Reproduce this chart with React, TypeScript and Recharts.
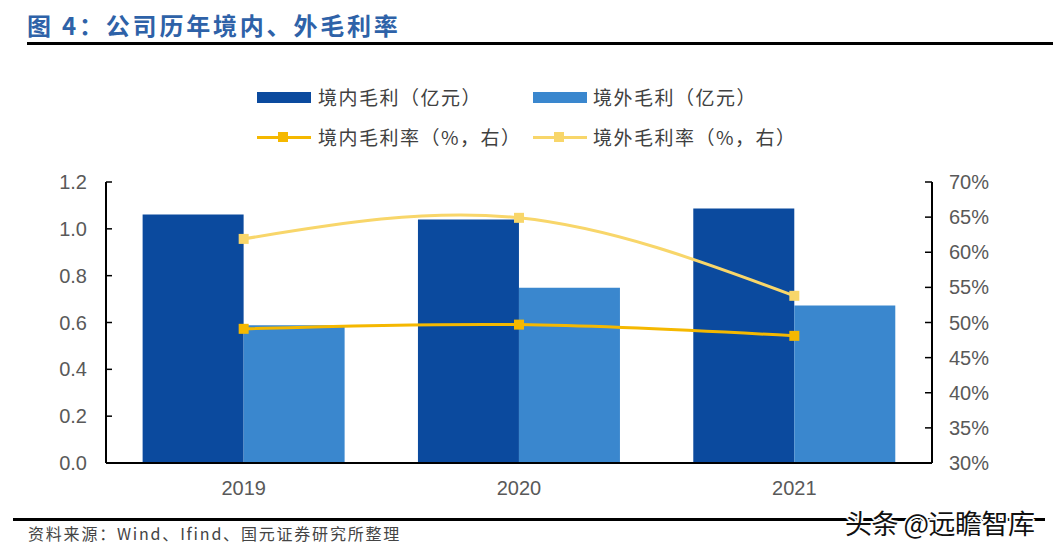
import React from "react";
import {
  ComposedChart,
  Bar,
  Line,
  XAxis,
  YAxis,
} from "recharts";

const years = ["2019", "2020", "2021"];
const domesticProfit = [1.061, 1.04, 1.087];
const overseasProfit = [0.588, 0.748, 0.673];
const domesticMargin = [49.1, 49.7, 48.1];
const overseasMargin = [61.9, 64.9, 53.8];
const leftTicks = [0, 0.2, 0.4, 0.6, 0.8, 1.0, 1.2];
const rightTicks = [30, 35, 40, 45, 50, 55, 60, 65, 70];

const data = years.map((year, i) => ({
  year,
  domesticProfit: domesticProfit[i],
  overseasProfit: overseasProfit[i],
  domesticMargin: domesticMargin[i],
  overseasMargin: overseasMargin[i],
}));

const DARK_BLUE = "#0B4A9E";
const LIGHT_BLUE = "#3A87CE";
const GOLD = "#F5B800";
const PALE_GOLD = "#F8D66A";
const TICK_GREY = "#595959";
const FONT = "'Liberation Sans', Arial, sans-serif";
const CJK = "'Noto Sans CJK SC', sans-serif";

const LeftTick = (props: any) => {
  const { x, y, payload } = props;
  const ax = x + 19;
  return (
    <g>
      <line x1={ax} x2={ax + 6} y1={y} y2={y} stroke="#000" strokeWidth={1.5} />
      <text x={x} y={y} dy={7} textAnchor="end" fill={TICK_GREY} fontSize={20} fontFamily={FONT}>
        {Number(payload.value).toFixed(1)}
      </text>
    </g>
  );
};

const RightTick = (props: any) => {
  const { x, y, payload } = props;
  const ax = x - 17;
  return (
    <g>
      <line x1={ax - 7} x2={ax} y1={y} y2={y} stroke="#000" strokeWidth={1.5} />
      <text x={x} y={y} dy={7} textAnchor="start" fill={TICK_GREY} fontSize={20} fontFamily={FONT}>
        {payload.value}%
      </text>
    </g>
  );
};

const squareDot = (color: string) => (props: any) => {
  const { cx, cy, index } = props;
  return <rect key={index} x={cx - 5} y={cy - 5} width={10} height={10} fill={color} />;
};

const legendText: React.CSSProperties = {
  position: "absolute",
  fontFamily: CJK,
  fontSize: 19,
  letterSpacing: 1.5,
  color: "#404040",
  lineHeight: "20px",
  whiteSpace: "nowrap",
};

function LegendLine({ left, top, color }: { left: number; top: number; color: string }) {
  return (
    <div style={{ position: "absolute", left, top, width: 54, height: 10 }}>
      <div style={{ position: "absolute", left: 0, top: 4, width: 54, height: 3, background: color }} />
      <div style={{ position: "absolute", left: 21, top: 0, width: 10, height: 10, background: color }} />
    </div>
  );
}

export default function App() {
  return (
    <div style={{ position: "absolute", left: 0, top: 0, width: 1053, height: 553, background: "#fff", overflow: "hidden" }}>
      <div
        style={{
          position: "absolute",
          left: 27,
          top: 10,
          fontFamily: CJK,
          fontWeight: 700,
          fontSize: 24,
          letterSpacing: 2.8,
          color: "#2E62A8",
          whiteSpace: "nowrap",
          lineHeight: "30px",
        }}
      >
        图 4：公司历年境内、外毛利率
      </div>
      <div style={{ position: "absolute", left: 27, top: 42, width: 1026, height: 3, background: "#000" }} />

      <div style={{ position: "absolute", left: 257, top: 92, width: 54, height: 11, background: DARK_BLUE }} />
      <div style={{ ...legendText, left: 318, top: 87 }}>境内毛利（亿元）</div>
      <div style={{ position: "absolute", left: 533, top: 92, width: 54, height: 11, background: LIGHT_BLUE }} />
      <div style={{ ...legendText, left: 593, top: 87 }}>境外毛利（亿元）</div>
      <LegendLine left={257} top={132} color={GOLD} />
      <div style={{ ...legendText, left: 318, top: 127 }}>境内毛利率（%，右）</div>
      <LegendLine left={533} top={132} color={PALE_GOLD} />
      <div style={{ ...legendText, left: 593, top: 127 }}>境外毛利率（%，右）</div>

      <div style={{ position: "absolute", left: 0, top: 0 }}>
        <ComposedChart
          width={1053}
          height={553}
          data={data}
          margin={{ top: 182, right: 0, bottom: 50, left: 0 }}
          barCategoryGap="13.3%"
          barGap={0}
        >
          <XAxis
            dataKey="year"
            tickLine={false}
            tickSize={0}
            tickMargin={18}
            height={40}
            axisLine={{ stroke: "#000", strokeWidth: 2 }}
            tick={{ fill: TICK_GREY, fontSize: 20, fontFamily: FONT }}
          />
          <YAxis
            yAxisId="left"
            orientation="left"
            width={106}
            domain={[0, 1.2]}
            ticks={leftTicks}
            interval={0}
            tickLine={false}
            tickSize={6}
            tickMargin={13}
            axisLine={{ stroke: "#000", strokeWidth: 2 }}
            tick={<LeftTick />}
          />
          <YAxis
            yAxisId="right"
            orientation="right"
            width={121}
            domain={[30, 70]}
            ticks={rightTicks}
            interval={0}
            tickLine={false}
            tickSize={6}
            tickMargin={11}
            axisLine={{ stroke: "#000", strokeWidth: 2 }}
            tick={<RightTick />}
          />
          <Bar yAxisId="left" dataKey="domesticProfit" fill={DARK_BLUE} isAnimationActive={false} />
          <Bar yAxisId="left" dataKey="overseasProfit" fill={LIGHT_BLUE} isAnimationActive={false} />
          <Line
            yAxisId="right"
            type="natural"
            dataKey="domesticMargin"
            stroke={GOLD}
            strokeWidth={3}
            dot={squareDot(GOLD)}
            activeDot={false}
            isAnimationActive={false}
          />
          <Line
            yAxisId="right"
            type="natural"
            dataKey="overseasMargin"
            stroke={PALE_GOLD}
            strokeWidth={3}
            dot={squareDot(PALE_GOLD)}
            activeDot={false}
            isAnimationActive={false}
          />
        </ComposedChart>
      </div>

      <div style={{ position: "absolute", left: 13, top: 518, width: 1032, height: 3, background: "#000" }} />
      <div
        style={{
          position: "absolute",
          left: 28,
          top: 523,
          fontFamily: CJK,
          fontSize: 16,
          letterSpacing: 1.8,
          color: "#444",
          whiteSpace: "nowrap",
          lineHeight: "20px",
        }}
      >
        资料来源：Wind、Ifind、国元证券研究所整理
      </div>
      <div
        style={{
          position: "absolute",
          left: 845,
          top: 507,
          fontFamily: CJK,
          fontSize: 27,
          color: "#111",
          whiteSpace: "nowrap",
          lineHeight: "32px",
          letterSpacing: -0.5,
          textShadow: "2px 0 #fff, -2px 0 #fff, 0 2px #fff, 0 -2px #fff, 1px 1px #fff, -1px -1px #fff, 1px -1px #fff, -1px 1px #fff",
        }}
      >
        头条 @远瞻智库
      </div>
    </div>
  );
}
